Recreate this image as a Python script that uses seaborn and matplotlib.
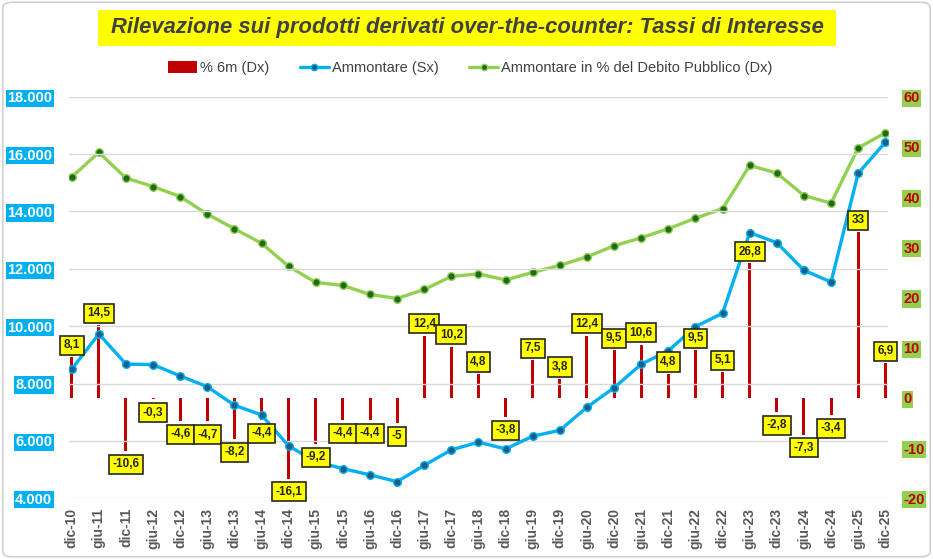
import numpy as np
import pandas as pd
import matplotlib
matplotlib.use("Agg")
import matplotlib.pyplot as plt
import seaborn as sns
from matplotlib.lines import Line2D
from matplotlib.patches import Patch, FancyBboxPatch, Rectangle

periods = ["dic-10", "giu-11", "dic-11", "giu-12", "dic-12", "giu-13", "dic-13", "giu-14",
           "dic-14", "giu-15", "dic-15", "giu-16", "dic-16", "giu-17", "dic-17", "giu-18",
           "dic-18", "giu-19", "dic-19", "giu-20", "dic-20", "giu-21", "dic-21", "giu-22",
           "dic-22", "giu-23", "dic-23", "giu-24", "dic-24", "giu-25", "dic-25"]
ammontare = [8500, 9730, 8680, 8660, 8265, 7890, 7245, 6905, 5825, 5280, 5035, 4815, 4580,
             5150, 5690, 5955, 5720, 6165, 6370, 7175, 7855, 8675, 9145, 9985, 10450, 13260,
             12910, 11950, 11540, 15330, 16410]
perc_debito = [44.0, 48.9, 43.8, 42.1, 40.1, 36.6, 33.7, 30.8, 26.2, 23.0, 22.4, 20.6, 19.8,
               21.6, 24.2, 24.7, 23.5, 25.0, 26.4, 28.1, 30.3, 31.9, 33.7, 35.8, 37.7, 46.3,
               44.8, 40.3, 38.8, 49.8, 52.8]
var_6m = [8.1, 14.5, -10.6, -0.3, -4.6, -4.7, -8.2, -4.4, -16.1, -9.2, -4.4, -4.4, -5, 12.4,
          10.2, 4.8, -3.8, 7.5, 3.8, 12.4, 9.5, 10.6, 4.8, 9.5, 5.1, 26.8, -2.8, -7.3, -3.4,
          33, 6.9]
left_ticks = [4000, 6000, 8000, 10000, 12000, 14000, 16000, 18000]
right_ticks = [-20, -10, 0, 10, 20, 30, 40, 50, 60]

title = "Rilevazione sui prodotti derivati over-the-counter: Tassi di Interesse"
legend_labels = ["% 6m (Dx)", "Ammontare (Sx)", "Ammontare in % del Debito Pubblico (Dx)"]

sns.set_theme(style="white")
plt.rcParams['font.family'] = ['Liberation Sans', 'DejaVu Sans']

df = pd.DataFrame({"idx": np.arange(len(periods)), "periodo": periods,
                   "ammontare": ammontare, "perc": perc_debito, "var": var_6m})

W, H = 933, 559
fig = plt.figure(figsize=(W / 100, H / 100), dpi=100)
ax = fig.add_axes([69 / W, 1 - 498.3 / H, (888 - 69) / W, (498.3 - 96.7) / H])
ax2 = ax.twinx()
ax.set_zorder(ax2.get_zorder() + 1)
ax.patch.set_visible(False)

RED = "#C00000"
BLUE = "#00B0F0"
GREEN = "#92D050"

sns.barplot(data=df, x="idx", y="var", ax=ax2, native_scale=True, width=0.11,
            color=RED, saturation=1, errorbar=None, linewidth=0, zorder=1)
sns.lineplot(data=df, x="idx", y="perc", ax=ax2, color=GREEN, lw=2.4, marker="o",
             markersize=5.5, markerfacecolor="#1E6B1E", markeredgecolor=GREEN,
             markeredgewidth=1, zorder=3)
sns.lineplot(data=df, x="idx", y="ammontare", ax=ax, color=BLUE, lw=2.4, marker="o",
             markersize=5.5, markerfacecolor="#1B5E86", markeredgecolor=BLUE,
             markeredgewidth=1, zorder=3)

ax.set_xlim(-0.1, len(periods) - 0.9)
ax.set_ylim(4000, 18000)
ax2.set_ylim(-20, 60)
ax.set_xlabel("")
ax.set_ylabel("")
ax2.set_xlabel("")
ax2.set_ylabel("")

ax.set_yticks(left_ticks)
ax.set_yticklabels([f"{v:,}".replace(",", ".") for v in left_ticks],
                   fontweight="bold", color="white", fontsize=10.5)
for t in ax.get_yticklabels():
    t.set_bbox(dict(facecolor=BLUE, edgecolor="none", pad=1.2))
ax2.set_yticks(right_ticks)
ax2.set_yticklabels([str(v) for v in right_ticks], fontweight="bold", color=RED, fontsize=10.5)
for t in ax2.get_yticklabels():
    t.set_bbox(dict(facecolor=GREEN, edgecolor="none", pad=1.2))

ax.set_xticks(df["idx"])
ax.set_xticklabels(periods, rotation=90, fontweight="bold", color="#595959", fontsize=10)
ax.tick_params(axis="x", length=0, pad=7)
ax.tick_params(axis="y", length=0, pad=12)
ax2.tick_params(axis="y", length=0, pad=11)

ax.yaxis.grid(True, color="#D9D9D9", lw=1)
ax.xaxis.grid(False)
ax2.grid(False)
for a in (ax, ax2):
    for s in a.spines.values():
        s.set_visible(False)

for i, v in enumerate(var_6m):
    lbl = f"{v:g}".replace(".", ",")
    off = 8.5 if v >= 0 else -9.5
    ax.annotate(lbl, xy=(i, v), xycoords=ax2.transData, xytext=(0, off),
                textcoords="offset points", ha="center", va="center",
                fontsize=8.5, fontweight="bold", color="#262626", zorder=10,
                bbox=dict(boxstyle="square,pad=0.3", fc="#FFFF00", ec="#262626", lw=1.2))

# title box
fig.patches.append(Rectangle((98 / W, 1 - 46 / H), (836 - 98) / W, 36 / H,
                             transform=fig.transFigure, facecolor="#FFFF00",
                             edgecolor="none", zorder=0))
fig.text(467 / W, 1 - 28 / H, title, ha="center", va="center", fontsize=15.8,
         fontweight="bold", fontstyle="italic", color="#404040")

handles = [Patch(facecolor=RED, edgecolor="none"),
           Line2D([], [], color=BLUE, lw=2.4, marker="o", markersize=4.5,
                  markerfacecolor="#1B5E86", markeredgecolor=BLUE),
           Line2D([], [], color=GREEN, lw=2.4, marker="o", markersize=4.5,
                  markerfacecolor="#1E6B1E", markeredgecolor=GREEN)]
leg = fig.legend(handles, legend_labels, loc="center", bbox_to_anchor=(470 / W, 1 - 68 / H),
                 ncol=3, frameon=False, handlelength=2.0, handleheight=0.8,
                 columnspacing=2.1, handletextpad=0.2,
                 prop={"size": 10.5})
for t in leg.get_texts():
    t.set_color("#404040")

fig.patches.append(FancyBboxPatch((0.003, 0.004), 0.994, 0.992,
                                  boxstyle="round,pad=0,rounding_size=0.01",
                                  transform=fig.transFigure, facecolor="none",
                                  edgecolor="#D0D0D0", lw=1.2, zorder=0))

fig.savefig("out.png", dpi=100)
